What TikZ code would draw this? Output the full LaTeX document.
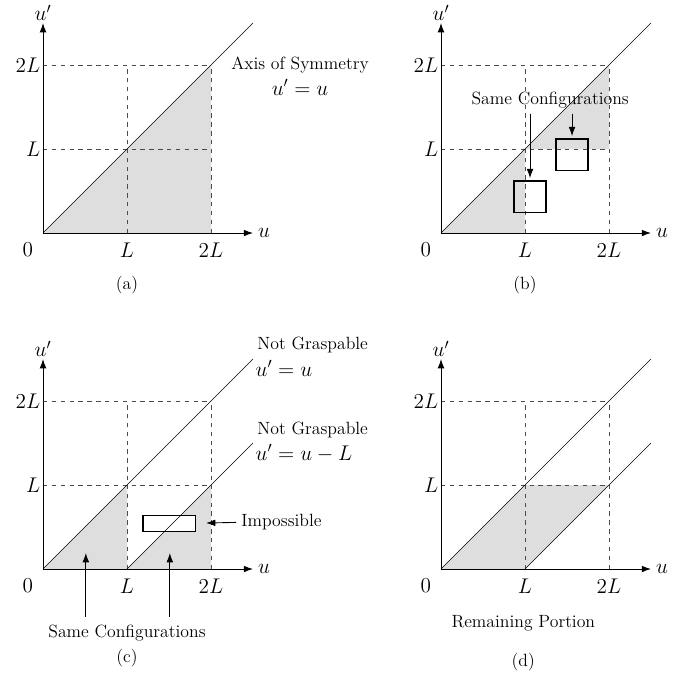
\documentclass[tikz,border=0pt]{standalone}
\usepackage{amsmath}
\usetikzlibrary{arrows.meta, positioning, backgrounds}

\begin{document}
\begin{tikzpicture}[x=2cm, y=2cm,
    every node/.style = {font=\large},
    tick/.style = {font=\Large},
    axis/.style = {draw=black, line width=0.6pt, -{Latex[length=2.2mm, width=1.6mm]}},
    gridline/.style = {draw=black!70, dashed, line width=0.5pt},
    diag/.style = {draw=black, line width=0.45pt},
    region/.style = {fill=black!13},
    cfgbox/.style = {draw=black, line width=0.8pt, inner sep=0pt, minimum size=0.76cm},
    pointer/.style = {-{Latex[length=2.2mm, width=1.6mm]}, line width=0.6pt}
]

\useasboundingbox (-0.512,-5.31) rectangle (7.75,2.774);

% Axes, ticks and dashed grid of the four panels
\foreach \p/\ox/\oy in {a/0/0, b/4.738/0, c/0/-4, d/4.738/-4} {
  \begin{scope}[shift={(\ox,\oy)}]
    \draw [gridline, step=2cm] (0,0) grid (2,2);
    \coordinate (O-\p) at (0,0);
    \coordinate (U-\p) at (2.5,0);
    \coordinate (V-\p) at (0,2.5);
    \draw [axis] (O-\p) -- (U-\p);
    \draw [axis] (O-\p) -- (V-\p);
    \node (u-\p) [tick, right=0pt of U-\p] {$u$};
    \node (v-\p) [tick, above=-2pt of V-\p] {$u'$};
    \node (zero-\p) [tick] at (-0.18,-0.2) {$0$};
    \node (Lx-\p) [tick] at (1,-0.2) {$L$};
    \node (LLx-\p) [tick] at (2,-0.2) {$2L$};
    \node (Ly-\p) [tick, anchor=east] at (0.03,1) {$L$};
    \node (LLy-\p) [tick, anchor=east] at (0.03,2) {$2L$};
  \end{scope}
}

% (a) Axis of symmetry
\begin{scope}
  \begin{scope}[on background layer]
    \fill [region] (0,0) -- (2,2) -- (2,0) -- cycle;
  \end{scope}
  \coordinate (diag-a) at (2.5,2.5);
  \draw [diag] (O-a) -- (diag-a);
  \node (sym) at (3.06,2.00) {Axis of Symmetry};
  \node (sym-eq) [tick] at (3.06,1.73) {$u'=u$};
  \node (cap-a) at (1,-0.62) {(a)};
\end{scope}

% (b) Same configurations
\begin{scope}[shift={(4.738,0)}]
  \begin{scope}[on background layer]
    \fill [region] (0,0) -- (1,1) -- (1,0) -- cycle;
    \fill [region] (1,1) -- (2,2) -- (2,1) -- cycle;
  \end{scope}
  \coordinate (diag-b) at (2.5,2.5);
  \draw [diag] (O-b) -- (diag-b);
  \node (same-b) at (1.30,1.58) {Same Configurations};
  \node (sq1) [cfgbox] at (1.06,0.43) {};
  \node (sq2) [cfgbox] at (1.56,0.93) {};
  \draw [pointer, shorten >=1.5pt] (same-b.south -| sq1.north) -- (sq1.north);
  \draw [pointer, shorten >=1.5pt] (same-b.south -| sq2.north) -- (sq2.north);
  \node (cap-b) at (1,-0.62) {(b)};
\end{scope}

% (c) Not graspable lines
\begin{scope}[shift={(0,-4)}]
  \begin{scope}[on background layer]
    \fill [region] (0,0) -- (1,1) -- (1,0) -- cycle;
    \fill [region] (1,0) -- (2,1) -- (2,0) -- cycle;
  \end{scope}
  \node (imposs-box) [draw, fill=white, line width=0.8pt, inner sep=0pt,
        minimum width=1.26cm, minimum height=0.38cm] at (1.505,0.545) {};
  \coordinate (diag-c) at (2.5,2.5);
  \coordinate (foot-c) at (1,0);
  \coordinate (shift-c) at (2.5,1.5);
  \draw [diag] (O-c) -- (diag-c);
  \draw [diag] (foot-c) -- (shift-c);
  \node (nograsp1) [anchor=west] at (2.49,2.67) {Not Graspable};
  \node (nograsp1-eq) [tick, anchor=west] at (2.47,2.39) {$u'=u$};
  \node (nograsp2) [anchor=west] at (2.49,1.655) {Not Graspable};
  \node (nograsp2-eq) [tick, anchor=west] at (2.47,1.38) {$u'=u-L$};
  \node (imposs) [anchor=west] at (2.30,0.555) {Impossible};
  \draw [pointer, shorten >=6.5pt] (imposs.west) -- (imposs-box.east);
  \node (same-c) at (1,-0.76) {Same Configurations};
  \coordinate (tri1) at (0.51,0.19);
  \coordinate (tri2) at (1.51,0.19);
  \draw [pointer, shorten <=2pt] (same-c.north -| tri1) -- (tri1);
  \draw [pointer, shorten <=2pt] (same-c.north -| tri2) -- (tri2);
  \node (cap-c) at (1,-1.06) {(c)};
\end{scope}

% (d) Remaining portion
\begin{scope}[shift={(4.738,-4)}]
  \begin{scope}[on background layer]
    \fill [region] (0,0) -- (1,1) -- (2,1) -- (1,0) -- cycle;
  \end{scope}
  \coordinate (diag-d) at (2.5,2.5);
  \coordinate (foot-d) at (1,0);
  \coordinate (shift-d) at (2.5,1.5);
  \draw [diag] (O-d) -- (diag-d);
  \draw [diag] (foot-d) -- (shift-d);
  \node (remain) at (0.98,-0.64) {Remaining Portion};
  \node (cap-d) at (0.98,-1.11) {(d)};
\end{scope}

\end{tikzpicture}
\end{document}
